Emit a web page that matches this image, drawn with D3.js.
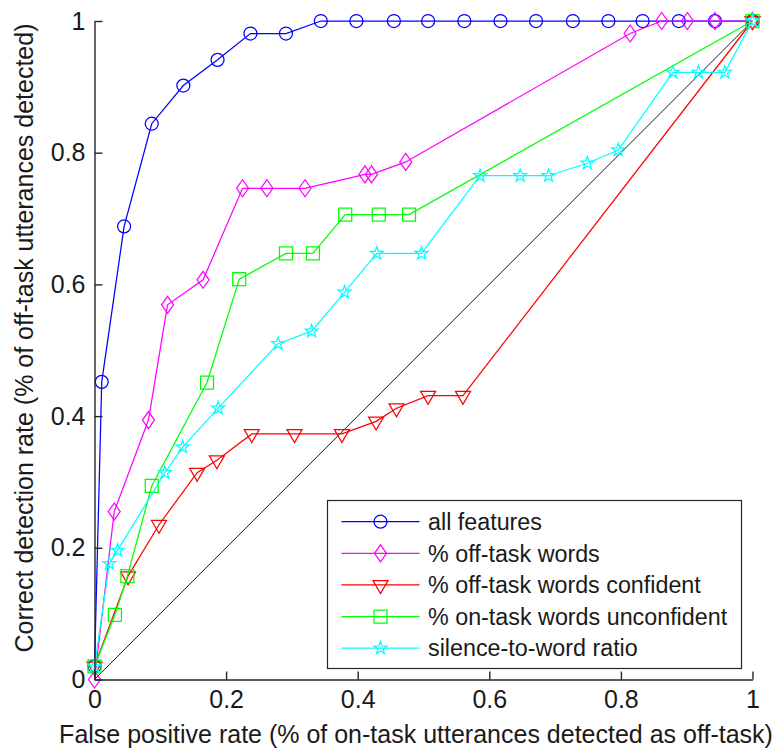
<!DOCTYPE html>
<html>
<head>
<meta charset="utf-8">
<script src="https://cdn.jsdelivr.net/npm/d3@7"></script>
<style>
  html, body { margin: 0; padding: 0; background: #fff; }
  svg { display: block; }
  text { font-family: "Liberation Sans", Arial, sans-serif; fill: #1a1a1a; }
</style>
</head>
<body>
<svg id="chart" width="777" height="751"></svg>
<script>
// ROC curves for off-task utterance detection, one per feature set.
const seriesNames = [
  "all features",
  "% off-task words",
  "% off-task words confident",
  "% on-task words unconfident",
  "silence-to-word ratio"
];
const seriesColors = ["#0000ff", "#ff00ff", "#ff0000", "#00ff00", "#00ffff"];
const seriesMarkers = ["circle", "diamond", "triangleDown", "square", "star"];

// False positive rate (x) and correct detection rate (y) per series
const allFeaturesX = [0, 0.011, 0.045, 0.087, 0.135, 0.187, 0.237, 0.291, 0.344, 0.398, 0.455, 0.507, 0.562, 0.617, 0.671, 0.727, 0.781, 0.833, 0.888, 0.943, 1];
const allFeaturesY = [0.02, 0.452, 0.688, 0.844, 0.902, 0.941, 0.981, 0.981, 1, 1, 1, 1, 1, 1, 1, 1, 1, 1, 1, 1, 1];

const offTaskX = [0, 0.030, 0.082, 0.111, 0.165, 0.225, 0.262, 0.320, 0.411, 0.421, 0.473, 0.814, 0.862, 0.901, 0.943, 1];
const offTaskY = [0, 0.255, 0.394, 0.569, 0.607, 0.746, 0.746, 0.746, 0.767, 0.767, 0.786, 0.981, 1, 1, 1, 1];

const offTaskConfX = [0, 0.051, 0.098, 0.156, 0.186, 0.239, 0.304, 0.376, 0.428, 0.459, 0.507, 0.560, 1];
const offTaskConfY = [0.02, 0.157, 0.235, 0.314, 0.333, 0.373, 0.373, 0.373, 0.392, 0.412, 0.431, 0.431, 1];

const onTaskUnconfX = [0, 0.031, 0.050, 0.087, 0.171, 0.220, 0.291, 0.332, 0.381, 0.432, 0.478, 1];
const onTaskUnconfY = [0.02, 0.098, 0.157, 0.294, 0.451, 0.608, 0.647, 0.647, 0.706, 0.706, 0.706, 1];

const silenceX = [0, 0.0225, 0.035, 0.107, 0.134, 0.188, 0.279, 0.330, 0.380, 0.429, 0.497, 0.586, 0.647, 0.690, 0.749, 0.796, 0.879, 0.918, 0.958, 1];
const silenceY = [0.02, 0.176, 0.196, 0.314, 0.353, 0.412, 0.510, 0.529, 0.588, 0.647, 0.647, 0.765, 0.765, 0.765, 0.784, 0.804, 0.922, 0.922, 0.922, 1];

const seriesX = [allFeaturesX, offTaskX, offTaskConfX, onTaskUnconfX, silenceX];
const seriesY = [allFeaturesY, offTaskY, offTaskConfY, onTaskUnconfY, silenceY];

const tickValues = [0, 0.2, 0.4, 0.6, 0.8, 1];
const xTitle = "False positive rate (% of on-task utterances detected as off-task)";
const yTitle = "Correct detection rate (% of off-task utterances detected)";

const svg = d3.select("#chart");
const x = d3.scaleLinear().domain([0, 1]).range([94.5, 752.5]);
const y = d3.scaleLinear().domain([0, 1]).range([679.5, 21]);

const strokeW = 1.25;

// Marker path generators, centred on the data point
function markerPath(kind) {
  switch (kind) {
    case "circle":
      return "M6.5,0A6.5,6.5 0 1,1 -6.5,0A6.5,6.5 0 1,1 6.5,0Z";
    case "diamond":
      return "M0,-8.5L6,0L0,8.5L-6,0Z";
    case "triangleDown":
      return "M-7.5,-4.3L7.5,-4.3L0,8.6Z";
    case "square":
      return "M-6.5,-6.5L6.5,-6.5L6.5,6.5L-6.5,6.5Z";
    case "star": {
      const pts = [];
      for (let i = 0; i < 10; i++) {
        const r = i % 2 === 0 ? 6.8 : 2.7;
        const a = -Math.PI / 2 + i * Math.PI / 5;
        pts.push([r * Math.cos(a), r * Math.sin(a)]);
      }
      return "M" + pts.map(p => p[0].toFixed(2) + "," + p[1].toFixed(2)).join("L") + "Z";
    }
  }
}

// Chance diagonal
svg.append("line")
  .attr("x1", x(0)).attr("y1", y(0))
  .attr("x2", x(1)).attr("y2", y(1))
  .attr("stroke", "#000").attr("stroke-width", 0.9);

const line = d3.line().x(d => x(d[0])).y(d => y(d[1]));

seriesNames.forEach((name, i) => {
  const pts = seriesX[i].map((v, j) => [v, seriesY[i][j]]);
  const g = svg.append("g").attr("class", "series");
  g.append("path")
    .attr("d", line(pts))
    .attr("fill", "none")
    .attr("stroke", seriesColors[i])
    .attr("stroke-width", strokeW);
  g.selectAll("path.marker")
    .data(pts)
    .join("path")
    .attr("class", "marker")
    .attr("transform", d => `translate(${x(d[0])},${y(d[1])})`)
    .attr("d", markerPath(seriesMarkers[i]))
    .attr("fill", "none")
    .attr("stroke", seriesColors[i])
    .attr("stroke-width", strokeW);
});

// Axes with inward ticks
const fmt = d => String(+d.toFixed(1));
const xAxis = svg.append("g")
  .attr("transform", `translate(0,${y(0)})`)
  .call(d3.axisBottom(x).tickValues(tickValues).tickFormat(fmt)
    .tickSizeInner(-8).tickSizeOuter(0).tickPadding(11));
const yAxis = svg.append("g")
  .attr("transform", `translate(${x(0)},0)`)
  .call(d3.axisLeft(y).tickValues(tickValues).tickFormat(fmt)
    .tickSizeInner(-8).tickSizeOuter(0).tickPadding(9));

[xAxis, yAxis].forEach(a => {
  a.select(".domain").attr("stroke", "#262626").attr("stroke-width", 1.4);
  a.selectAll(".tick line").attr("stroke", "#262626").attr("stroke-width", 1.4);
  a.selectAll(".tick text")
    .attr("font-size", 25)
    .attr("font-family", "Liberation Sans, Arial, sans-serif")
    .attr("fill", "#1a1a1a");
});

// Axis titles
svg.append("text")
  .attr("x", 416).attr("y", 743)
  .attr("text-anchor", "middle")
  .attr("font-size", 25)
  .text(xTitle);
svg.append("text")
  .attr("transform", "translate(33,338) rotate(-90)")
  .attr("text-anchor", "middle")
  .attr("font-size", 25)
  .text(yTitle);

// Legend
const legend = svg.append("g");
legend.append("rect")
  .attr("x", 327.5).attr("y", 500.5)
  .attr("width", 414).attr("height", 168)
  .attr("fill", "#fff")
  .attr("stroke", "#262626").attr("stroke-width", 1.2);

seriesNames.forEach((name, i) => {
  const cy = 521.7 + i * 31.6;
  legend.append("line")
    .attr("x1", 341.5).attr("x2", 419.5)
    .attr("y1", cy).attr("y2", cy)
    .attr("stroke", seriesColors[i]).attr("stroke-width", strokeW);
  legend.append("path")
    .attr("transform", `translate(380.5,${cy})`)
    .attr("d", markerPath(seriesMarkers[i]))
    .attr("fill", "none")
    .attr("stroke", seriesColors[i]).attr("stroke-width", strokeW);
  legend.append("text")
    .attr("x", 428).attr("y", cy + 8.3)
    .attr("font-size", 23.3)
    .text(name);
});
</script>
</body>
</html>
